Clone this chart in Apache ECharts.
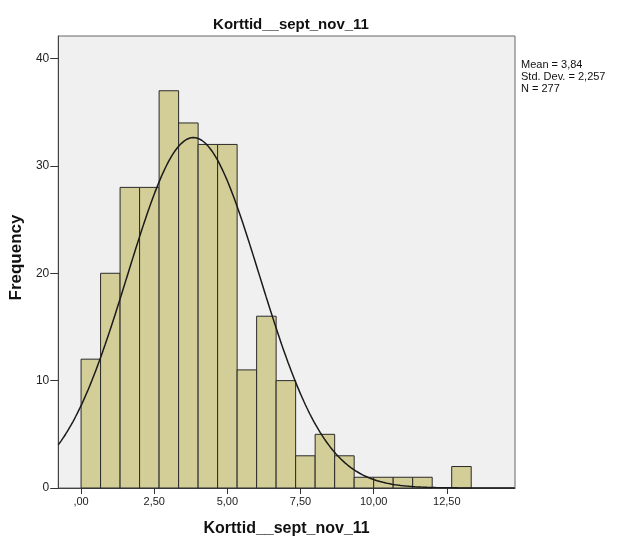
<!DOCTYPE html>
<html>
<head>
<meta charset="utf-8">
<script src="https://cdn.jsdelivr.net/npm/echarts@6/dist/echarts.min.js"></script>
<style>
    html, body { margin: 0; padding: 0; background: #fff; }
    #chart { width: 624px; height: 542px; }
</style>
</head>
<body>
<div id="chart"></div>
<script>
// histogram counts, one per bin, starting at binOrigin
const counts = [12, 20, 28, 28, 37, 34, 32, 32, 11, 16, 10, 3, 5, 3, 1, 1, 1, 1, 0, 2];
const binOrigin = 0;
const binWidth = 2 / 3;
const xTicks = [0, 2.5, 5, 7.5, 10, 12.5];
const yTicks = [0, 10, 20, 30, 40];
// summary statistics shown in the chart, used for the normal curve
const mean = 3.84;
const stdDev = 2.257;
const n = 277;

const xMin = -0.78;
const xMax = 14.83;

const binData = counts
    .map((c, i) => [binOrigin + i * binWidth, binOrigin + (i + 1) * binWidth, c])
    .filter(d => d[2] > 0);

// fitted normal curve scaled to the histogram
const curveData = [];
for (let x = xMin; x <= xMax + 1e-9; x += 0.05) {
    const z = (x - mean) / stdDev;
    const y = n * binWidth * Math.exp(-0.5 * z * z) / (stdDev * Math.sqrt(2 * Math.PI));
    curveData.push([x, y]);
}

const fmtX = v => {
    let s = v.toFixed(2).replace('.', ',');
    if (s.startsWith('0,')) s = s.slice(1);
    return s;
};

const chart = echarts.init(document.getElementById('chart'));
chart.setOption({
    backgroundColor: '#fff',
    animation: false,
    textStyle: {fontFamily: 'Liberation Sans, Arial, sans-serif'},
    title: {
        text: 'Korttid__sept_nov_11',
        left: 286,
        top: 12,
        textAlign: 'center',
        textStyle: {fontSize: 15, fontWeight: 'bold', color: '#111', fontFamily: 'Liberation Sans, Arial, sans-serif'}
    },
    grid: {
        left: 56.5,
        right: 109,
        top: 36,
        bottom: 53,
        show: true,
        backgroundColor: '#F0F0F0',
        borderColor: '#666',
        borderWidth: 1
    },
    xAxis: {
        type: 'value',
        min: xMin,
        max: xMax,
        name: 'Korttid__sept_nov_11',
        nameLocation: 'middle',
        nameGap: 33,
        nameTextStyle: {fontSize: 16, fontWeight: 'bold', color: '#111'},
        axisLine: {show: true, onZero: false, lineStyle: {color: '#444'}},
        axisTick: {show: true, length: 6, customValues: xTicks, lineStyle: {color: '#333'}},
        axisLabel: {customValues: xTicks, formatter: fmtX, fontSize: 11, color: '#222', margin: 8},
        splitLine: {show: false}
    },
    yAxis: {
        type: 'value',
        min: 0,
        max: 42.1,
        name: 'Frequency',
        nameLocation: 'middle',
        nameGap: 30,
        nameRotate: 90,
        nameTextStyle: {fontSize: 17, fontWeight: 'bold', color: '#111', padding: [0, 0, 0, 9]},
        axisLine: {show: true, onZero: false, lineStyle: {color: '#444'}},
        axisTick: {show: true, length: 8, customValues: yTicks, lineStyle: {color: '#333'}},
        axisLabel: {customValues: yTicks, fontSize: 12, color: '#222', margin: 9},
        splitLine: {show: false}
    },
    graphic: [{
        type: 'text',
        left: 521,
        top: 59,
        style: {
            text: 'Mean = ' + mean.toFixed(2).replace('.', ',') + '\nStd. Dev. = ' + stdDev.toFixed(3).replace('.', ',') + '\nN = ' + n,
            fontSize: 11,
            lineHeight: 12,
            fill: '#111',
            fontFamily: 'Liberation Sans, Arial, sans-serif'
        }
    }],
    series: [{
        type: 'custom',
        data: binData,
        encode: {x: [0, 1], y: 2},
        renderItem: (params, api) => {
            const p0 = api.coord([api.value(0), api.value(2)]);
            const p1 = api.coord([api.value(1), 0]);
            return {
                type: 'rect',
                shape: {x: p0[0], y: p0[1], width: p1[0] - p0[0], height: p1[1] - p0[1]},
                style: {fill: '#D3CE97', stroke: '#2a2a2a', lineWidth: 1}
            };
        },
        z: 2
    }, {
        type: 'line',
        data: curveData,
        showSymbol: false,
        smooth: false,
        lineStyle: {color: '#1a1a1a', width: 1.5},
        z: 3
    }]
});
</script>
</body>
</html>
